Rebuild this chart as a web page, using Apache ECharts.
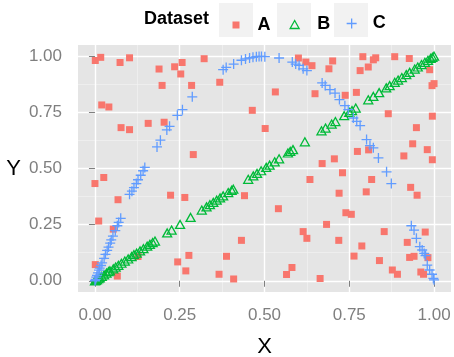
<!DOCTYPE html>
<html>
<head>
<meta charset="utf-8">
<script src="https://cdn.jsdelivr.net/npm/echarts@6/dist/echarts.min.js"></script>
<style>
  html, body { margin: 0; padding: 0; background: #fff; }
  #chart { width: 454px; height: 357px; }
</style>
</head>
<body>
<div id="chart"></div>
<script>
// values, [x, y]
const datasetA = [
  [0.001, 0.981], [0.017, 0.995], [0.074, 0.972], [0.102, 0.993], [0.189, 0.943], [0.235, 0.953],
  [0.257, 0.972], [0.253, 0.921], [0.198, 0.870], [0.285, 0.870], [0.020, 0.783], [0.041, 0.774],
  [0.077, 0.682], [0.102, 0.673], [0.157, 0.701], [0.204, 0.706], [0.290, 0.562], [0.322, 0.989],
  [0.368, 0.884], [0.532, 0.841], [0.464, 0.759], [0.502, 0.678], [0.600, 0.992], [0.622, 0.974],
  [0.640, 0.958], [0.690, 0.944], [0.649, 0.833], [0.670, 0.522], [0.701, 0.979], [0.790, 0.998],
  [0.828, 0.993], [0.821, 0.984], [0.806, 0.952], [0.782, 0.936], [0.884, 0.998], [0.927, 0.990],
  [0.987, 0.940], [0.994, 0.869], [1.000, 0.878], [0.738, 0.826], [0.771, 0.839], [0.865, 0.744],
  [0.995, 0.733], [0.948, 0.682], [0.937, 0.610], [0.980, 0.584], [0.911, 0.556], [0.995, 0.539],
  [0.774, 0.576], [0.807, 0.583], [0.706, 0.543],
  [0.000, 0.433], [0.026, 0.460], [0.068, 0.361], [0.011, 0.266], [0.054, 0.230], [0.001, 0.072],
  [0.066, 0.021], [0.127, 0.108], [0.223, 0.381], [0.265, 0.371], [0.244, 0.084], [0.277, 0.113],
  [0.268, 0.044], [0.441, 0.379], [0.541, 0.321], [0.634, 0.451], [0.683, 0.251], [0.614, 0.219],
  [0.625, 0.189], [0.432, 0.180], [0.388, 0.109], [0.366, 0.029], [0.409, 0.008], [0.581, 0.059],
  [0.565, 0.028], [0.664, 0.010], [0.730, 0.481], [0.816, 0.451], [0.720, 0.390], [0.800, 0.396],
  [0.931, 0.416], [0.950, 0.381], [0.740, 0.303], [0.756, 0.296], [0.853, 0.219], [0.719, 0.180],
  [0.787, 0.155], [0.974, 0.217], [0.921, 0.171], [0.764, 0.110], [0.839, 0.090], [0.928, 0.104],
  [0.941, 0.109], [0.982, 0.103], [0.877, 0.048], [0.892, 0.029], [0.961, 0.039], [0.969, 0.029]
]

const datasetB = [
  [0.000, 0.000], [0.003, 0.002], [0.006, 0.005], [0.010, 0.009], [0.014, 0.013], [0.020, 0.020],
  [0.027, 0.026], [0.034, 0.034], [0.040, 0.041], [0.044, 0.044], [0.054, 0.053], [0.061, 0.061],
  [0.069, 0.069], [0.078, 0.078], [0.088, 0.088], [0.098, 0.097], [0.108, 0.108], [0.115, 0.116],
  [0.123, 0.123], [0.133, 0.133], [0.143, 0.143], [0.154, 0.154], [0.162, 0.162], [0.170, 0.170],
  [0.177, 0.177], [0.213, 0.213], [0.226, 0.226], [0.251, 0.251], [0.282, 0.282], [0.315, 0.315],
  [0.329, 0.329], [0.339, 0.339], [0.349, 0.349], [0.359, 0.359], [0.369, 0.369], [0.378, 0.378],
  [0.393, 0.393], [0.403, 0.403], [0.408, 0.408], [0.452, 0.452], [0.467, 0.467], [0.478, 0.478],
  [0.490, 0.490], [0.505, 0.505], [0.515, 0.515], [0.530, 0.530], [0.543, 0.543], [0.569, 0.569],
  [0.576, 0.576], [0.584, 0.584], [0.619, 0.619], [0.668, 0.668], [0.680, 0.680], [0.698, 0.698],
  [0.709, 0.709], [0.735, 0.735], [0.750, 0.750], [0.758, 0.758], [0.769, 0.769], [0.806, 0.806],
  [0.821, 0.821], [0.838, 0.838], [0.859, 0.859], [0.869, 0.869], [0.884, 0.884], [0.894, 0.894],
  [0.905, 0.905], [0.918, 0.918], [0.928, 0.928], [0.943, 0.943], [0.952, 0.952], [0.963, 0.963],
  [0.973, 0.973], [0.982, 0.982], [0.990, 0.990], [0.995, 0.995], [1.000, 1.000]
]

const datasetC = [
  [0.000, 0.000], [0.002, 0.006], [0.004, 0.016], [0.006, 0.024], [0.009, 0.035], [0.012, 0.047],
  [0.014, 0.056], [0.018, 0.068], [0.021, 0.080], [0.027, 0.100], [0.031, 0.118], [0.036, 0.135],
  [0.040, 0.150], [0.045, 0.168], [0.048, 0.182], [0.053, 0.199], [0.060, 0.223], [0.066, 0.245],
  [0.070, 0.260], [0.076, 0.278], [0.102, 0.385], [0.109, 0.399], [0.115, 0.415], [0.122, 0.433],
  [0.127, 0.450], [0.135, 0.470], [0.142, 0.490], [0.147, 0.505], [0.183, 0.596], [0.193, 0.626],
  [0.212, 0.672], [0.220, 0.688], [0.243, 0.737], [0.258, 0.762], [0.287, 0.819], [0.378, 0.940],
  [0.387, 0.950], [0.409, 0.965], [0.432, 0.982], [0.444, 0.988], [0.456, 0.992], [0.466, 0.995],
  [0.476, 0.998], [0.484, 0.999], [0.491, 0.999], [0.501, 0.998], [0.543, 0.992], [0.582, 0.974],
  [0.592, 0.965], [0.602, 0.959], [0.614, 0.944], [0.625, 0.936], [0.670, 0.881], [0.679, 0.870],
  [0.693, 0.851], [0.708, 0.836], [0.721, 0.807], [0.737, 0.780], [0.747, 0.762], [0.762, 0.725],
  [0.772, 0.710], [0.782, 0.691], [0.801, 0.629], [0.811, 0.602], [0.821, 0.592], [0.836, 0.547],
  [0.860, 0.485], [0.874, 0.433], [0.933, 0.245], [0.941, 0.226], [0.948, 0.189], [0.958, 0.152],
  [0.965, 0.137], [0.971, 0.122], [0.975, 0.112], [0.980, 0.070], [0.987, 0.048], [0.994, 0.029],
  [0.998, 0.011], [1.000, 0.004]
]

const majorTicks = [0, 0.25, 0.5, 0.75, 1]
const minorTicks = [0.125, 0.375, 0.625, 0.875]
const seriesNames = ['A', 'B', 'C']

const colA = '#F8766D'
const colB = '#00BA38'
const colC = '#619CFF'
const plusPath = 'path://M5,0L5,10M0,5L10,5'
const font = 'Liberation Sans, Arial, sans-serif'

const chart = echarts.init(document.getElementById('chart'))

function majorAxis(name, isY) {
  return {
    type: 'value',
    min: -0.05,
    max: 1.05,
    z: 1,
    name: name,
    nameLocation: 'middle',
    nameGap: isY ? 57 : 44,
    nameRotate: 0,
    nameTextStyle: { fontFamily: font, fontSize: 22, color: '#000' },
    axisLine: { show: false },
    axisTick: {
      show: true,
      length: 6,
      customValues: majorTicks,
      lineStyle: { color: '#7F7F7F', width: 1 },
    },
    axisLabel: {
      customValues: majorTicks,
      margin: isY ? 16 : 15,
      fontFamily: font,
      fontSize: 17,
      color: '#7F7F7F',
      formatter: (v) => v.toFixed(2),
    },
    splitLine: { show: true, lineStyle: { color: '#fff', width: 1.4 } },
  }
}

function minorAxis() {
  return {
    type: 'value',
    min: -0.05,
    max: 1.05,
    z: 0,
    axisLine: { show: false },
    axisTick: { show: false, customValues: minorTicks },
    axisLabel: { show: false },
    splitLine: { show: true, lineStyle: { color: '#F2F2F2', width: 0.7 } },
  }
}

// legend: one block per key so each sits on its grey square
const keyLeft = [219, 277, 334]
const keyIcons = ['rect', 'triangle', plusPath]
const keySizes = [[7, 7], [9, 8], [10, 10]]
const keyStyles = [
  { color: colA, borderWidth: 0 },
  { color: 'transparent', borderColor: colB, borderWidth: 1.3 },
  { color: 'transparent', borderColor: colC, borderWidth: 1.3 },
]
const keyPad = [13, 13, 11]

const legends = seriesNames.map((n, i) => ({
  data: [{ name: n, icon: keyIcons[i] }],
  left: keyLeft[i] + 17 - keySizes[i][0] / 2,
  top: 19.5 - keySizes[i][1] / 2,
  padding: 0,
  itemWidth: keySizes[i][0],
  itemHeight: keySizes[i][1],
  selectedMode: false,
  itemStyle: keyStyles[i],
  textStyle: {
    fontFamily: font,
    fontSize: 18,
    fontWeight: 'bold',
    color: '#000',
    padding: [0, 0, 0, keyPad[i]],
  },
}))

const option = {
  backgroundColor: '#fff',
  animation: false,
  title: {
    text: 'Dataset',
    left: 144,
    top: 10,
    padding: 0,
    textStyle: { fontFamily: font, fontSize: 18, fontWeight: 'bold', color: '#000' },
  },
  legend: legends,
  graphic: keyLeft.map((x) => ({
    type: 'rect',
    left: x,
    top: 3,
    z: -1,
    shape: { width: 34, height: 34 },
    style: { fill: '#F2F2F2' },
  })),
  grid: {
    left: 78,
    right: 3,
    top: 45,
    bottom: 65,
    outerBoundsMode: 'none',
    containLabel: false,
    show: true,
    backgroundColor: '#E5E5E5',
    borderWidth: 0,
  },
  xAxis: [majorAxis('X', false), minorAxis()],
  yAxis: [majorAxis('Y', true), minorAxis()],
  series: [
    {
      name: 'A',
      type: 'scatter',
      data: datasetA,
      symbol: 'rect',
      symbolSize: 7,
      itemStyle: { color: colA, opacity: 1 },
    },
    {
      name: 'B',
      type: 'scatter',
      data: datasetB,
      symbol: 'triangle',
      symbolSize: [9, 8],
      itemStyle: { color: 'transparent', borderColor: colB, borderWidth: 1.3, opacity: 1 },
    },
    {
      name: 'C',
      type: 'scatter',
      data: datasetC,
      symbol: plusPath,
      symbolSize: 10,
      itemStyle: { color: 'transparent', borderColor: colC, borderWidth: 1.3, opacity: 1 },
    },
  ],
}

chart.setOption(option)
</script>
</body>
</html>
